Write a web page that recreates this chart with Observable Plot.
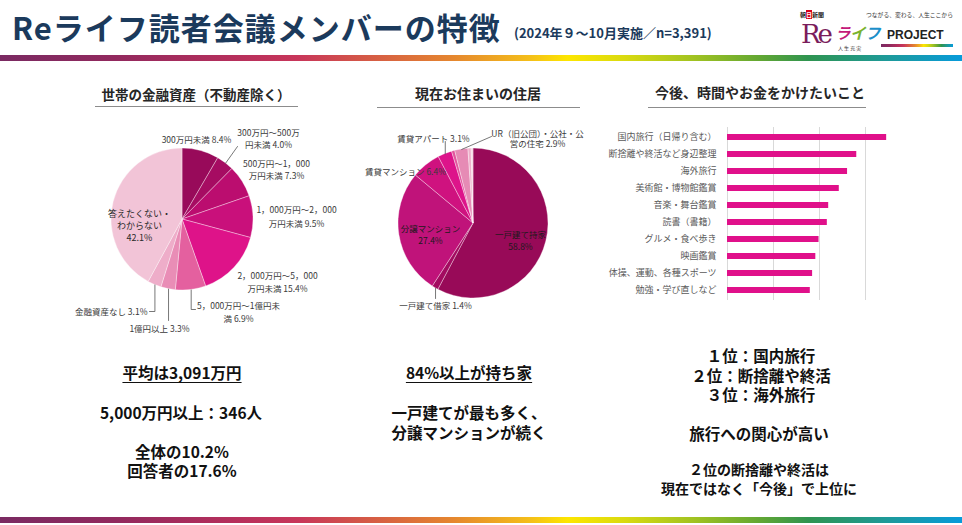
<!DOCTYPE html>
<html>
<head>
<meta charset="utf-8">
<script src="https://cdn.jsdelivr.net/npm/d3@7"></script>
<script src="https://cdn.jsdelivr.net/npm/@observablehq/plot@0.6"></script>
<style>
  html, body { margin: 0; padding: 0; background: #fff; }
  #slide { position: relative; width: 962px; height: 525px; overflow: hidden; background: #fff;
           font-family: "Noto Sans CJK JP", "Noto Sans", sans-serif; }
  .abs { position: absolute; white-space: nowrap; }
  .grad { background: linear-gradient(to right, #7a2a62 0%, #92295e 12%, #b52f5c 24%, #c8365a 31%, #d65e44 39%, #e5862f 47%, #f4be1a 55%, #fde600 59%, #d9da10 65%, #a2c321 72%, #62a733 79%, #2f9450 84%, #1e9a98 92%, #079bdb 100%); }
</style>
</head>
<body>
<div id="slide"></div>
<script>
// ---------------- DATA ----------------
const assetCategories = ["300万円未満", "300万円～500万円未満", "500万円～1，000万円未満", "1，000万円～2，000万円未満",
  "2，000万円～5，000万円未満", "5，000万円～1億円未満", "1億円以上", "金融資産なし", "答えたくない・わからない"];
const assetShares = [8.4, 4.0, 7.3, 9.5, 15.4, 6.9, 3.3, 3.1, 42.1];

const housingCategories = ["一戸建て持家", "一戸建て借家", "分譲マンション", "賃貸マンション", "賃貸アパート",
  "社宅・寮", "UR（旧公団）・公社・公営の住宅", "その他", "無回答"];
const housingShares = [58.8, 1.4, 27.4, 6.4, 3.1, 0.7, 2.9, 0.7, 0.4];

const interestCategories = ["国内旅行（日帰り含む）", "断捨離や終活など身辺整理", "海外旅行", "美術館・博物館鑑賞", "音楽・舞台鑑賞",
  "読書（書籍）", "グルメ・食べ歩き", "映画鑑賞", "体操、運動、各種スポーツ", "勉強・学び直しなど"];
const interestShares = [34.6, 28.1, 26.1, 24.3, 22.0, 21.7, 19.9, 19.2, 18.5, 18.0];
const gridTicks = [0, 10, 20, 30];

// ---------------- STYLES ----------------
const assetColors = ["#980a5a", "#a60c62", "#bb0d6f", "#c9107b", "#de1389", "#e4609f", "#e98db6", "#eeadc9", "#f2c4d7"];
const housingColors = ["#980a58", "#a30b60", "#c0137a", "#cf127f", "#dd148a", "#e2559d", "#e68bb5", "#eeb1cb", "#f6d4e1"];
const barColor = "#e0108a";
const FONT = "'Noto Sans CJK JP', 'Noto Sans', sans-serif";
const pct = v => v.toFixed(1) + "%";

// ---------------- HELPERS ----------------
const slide = document.getElementById("slide");
function addDiv(html, style) {
  const d = document.createElement("div");
  d.className = "abs";
  d.innerHTML = html;
  Object.assign(d.style, style);
  slide.appendChild(d);
  return d;
}
function centerText(text, cx, cy, size, extra = {}) {
  return addDiv(text, {
    left: (cx - 200) + "px", width: "400px", textAlign: "center",
    top: (cy - size * 0.575) + "px", fontSize: size + "px", lineHeight: (size * 1.15) + "px",
    fontWeight: "700", color: "#111", ...extra
  });
}
// several centred lines in one block; cy = centre of the first line, lead = line pitch
function centerBlock(lines, cx, cy, size, lead, extra = {}) {
  return addDiv(lines.join("<br>"), {
    left: (cx - 200) + "px", width: "400px", textAlign: "center",
    top: (cy - lead / 2) + "px", fontSize: size + "px", lineHeight: lead + "px",
    fontWeight: "700", color: "#111", ...extra
  });
}

// ---------------- HEADER ----------------
addDiv("Reライフ読者会議メンバーの特徴", {left: "12px", top: "10px", fontSize: "31px", lineHeight: "33px",
  fontWeight: "700", color: "#1b3a5c", letterSpacing: "1px"});
addDiv("(2024年９～10月実施／n=3,391)", {left: "514px", top: "25px", fontSize: "13px", lineHeight: "15px",
  fontWeight: "700", color: "#1b3a5c"});
// logo
addDiv('朝<span style="background:#d7001a;color:#fff">日</span>新聞', {left: "800px", top: "11px", fontSize: "6px", lineHeight: "7px", fontWeight: "700", color: "#222"});
addDiv("つながる、変わる、人生ここから", {left: "866px", top: "11px", fontSize: "5.8px", lineHeight: "7px", color: "#333"});
addDiv("Re", {left: "801px", top: "21px", fontSize: "26px", lineHeight: "27px", color: "#7a1d5c", fontFamily: "'DejaVu Serif', serif", letterSpacing: "-3px"});
addDiv('<span style="color:#c41a7a">ラ</span><span style="color:#7ab32e">イ</span><span style="color:#1b8fc9">フ</span>', {left: "835px", top: "22px", fontSize: "15.5px", lineHeight: "20px", fontStyle: "italic", fontWeight: "700", letterSpacing: "-0.5px"});
addDiv("PROJECT", {left: "887px", top: "29px", fontSize: "12px", lineHeight: "13px", fontWeight: "700", color: "#222", fontFamily: "'Liberation Sans', sans-serif"});
addDiv("人 生 充 実", {left: "838px", top: "45px", fontSize: "5px", lineHeight: "6px", color: "#333"});
const lb = addDiv("", {left: "881px", top: "44px", width: "72px", height: "3px"}); lb.classList.add("grad");
// gradient bars
const g1 = addDiv("", {left: "0px", top: "55px", width: "962px", height: "6px"}); g1.classList.add("grad");
const g2 = addDiv("", {left: "0px", top: "517px", width: "962px", height: "6px"}); g2.classList.add("grad");

// ---------------- SECTION TITLES ----------------
function sectionTitle(text, cx, cy, size, x1, x2, ly) {
  centerText(text, cx, cy, size, {color: "#262626"});
  addDiv("", {left: x1 + "px", top: ly + "px", width: (x2 - x1) + "px", height: "1px", background: "#8c8c8c"});
}
sectionTitle("世帯の金融資産（不動産除く）", 196, 95, 13.5, 95, 298, 106);
sectionTitle("現在お住まいの住居", 478, 93, 14, 377, 580, 107);
sectionTitle("今後、時間やお金をかけたいこと", 760, 92, 14, 648, 866, 107);

// ---------------- PIE ----------------
function pieChart({cats, vals, colors, left, top, W, H, cx, cy, r, labels, leaders}) {
  const data = cats.map((c, i) => ({cat: c, value: vals[i], color: colors[i]}));
  const arcs = d3.pie().sort(null).value(d => d.value)(data);
  const mid = i => {
    const a = (arcs[i].startAngle + arcs[i].endAngle) / 2;
    return [r * Math.sin(a), -r * Math.cos(a)];
  };
  const slices = (index, scales) => {
    const x0 = scales.x(0), y0 = scales.y(0);
    const rr = scales.x(r) - x0;
    const arc = d3.arc().innerRadius(0).outerRadius(rr);
    const g = d3.create("svg:g").attr("transform", `translate(${x0},${y0})`);
    g.selectAll("path").data(arcs).join("path")
      .attr("d", arc).attr("fill", d => d.data.color)
      .attr("stroke", "#fff").attr("stroke-width", 0.5).attr("stroke-opacity", 0.7);
    return g.node();
  };
  // one multi-line text per label
  const textRows = labels.map(l => {
    const lines = l.lines(vals[l.i]);
    const lead = l.lead ?? 12.5;
    const size = l.size ?? 8.5;
    return {
      text: lines.join("\n"), x: l.x, y: l.y + (lines.length - 1) * lead / 2,
      anchor: l.anchor ?? "middle", size, fill: l.fill ?? "#3a3a3a", lh: +(lead / size).toFixed(4)
    };
  });
  const linePts = [];
  leaders.forEach((ld, j) => {
    let [px, py] = mid(ld.i);
    linePts.push({id: j, x: px, y: py});
    ld.to.forEach(([tx, ty]) => {
      px = tx ?? px; py = ty ?? py;
      linePts.push({id: j, x: px, y: py});
    });
  });
  const textMarks = d3.groups(textRows, d => `${d.anchor}|${d.size}|${d.fill}|${d.lh}`).map(([k, rows]) => {
    const [anchor, size, fill, lh] = k.split("|");
    return Plot.text(rows, {x: "x", y: "y", text: "text", textAnchor: anchor, fontSize: +size,
      fill, lineHeight: +lh, fontFamily: FONT});
  });
  const plot = Plot.plot({
    width: W, height: H, margin: 0,
    x: {domain: [-cx, W - cx], range: [0, W], axis: null},
    y: {domain: [-cy, H - cy], range: [0, H], axis: null},
    style: {fontFamily: FONT, background: "transparent", overflow: "visible"},
    marks: [
      slices,
      Plot.line(linePts, {x: "x", y: "y", z: "id", stroke: "#555", strokeWidth: 0.8}),
      ...textMarks
    ]
  });
  const holder = addDiv("", {left: left + "px", top: top + "px"});
  holder.appendChild(plot);
}

// Pie 1 : household financial assets  (center on page ≈ 182,219)
pieChart({
  cats: assetCategories, vals: assetShares, colors: assetColors,
  left: 40, top: 110, W: 300, H: 230, cx: 142, cy: 109, r: 71,
  labels: [
    {i: 0, lines: d => [`300万円未満 ${pct(d)}`], x: 14, y: -81},
    {i: 1, lines: d => ["300万円～500万", `円未満 ${pct(d)}`], x: 86, y: -87, lead: 11.5},
    {i: 2, lines: d => ["500万円～1，000", `万円未満 ${pct(d)}`], x: 94, y: -57, lead: 12.5},
    {i: 3, lines: d => ["1，000万円～2，000", `万円未満 ${pct(d)}`], x: 114, y: -11, lead: 14},
    {i: 4, lines: d => ["2，000万円～5，000", `万円未満 ${pct(d)}`], x: 95, y: 55, lead: 13},
    {i: 5, lines: d => ["5，000万円～1億円未", `満 ${pct(d)}`], x: 56, y: 85, lead: 13},
    {i: 6, lines: d => [`1億円以上 ${pct(d)}`], x: -23, y: 108},
    {i: 7, lines: d => [`金融資産なし ${pct(d)}`], x: -35, y: 91, anchor: "end"},
    {i: 8, lines: d => ["答えたくない・", "わからない", pct(d)], x: -43, y: -6, lead: 12, size: 9, fill: "#2a2a2a"}
  ],
  leaders: [
    {i: 1, to: [[55, -73]]},
    {i: 5, to: [[null, 90], [13, 90]]},
    {i: 6, to: [[null, 101]]},
    {i: 7, to: [[null, 92], [-33, 92]]}
  ]
});

// Pie 2 : housing  (center on page ≈ 473,223)
pieChart({
  cats: housingCategories, vals: housingShares, colors: housingColors,
  left: 350, top: 110, W: 250, H: 210, cx: 123, cy: 113, r: 75,
  labels: [
    {i: 0, lines: d => ["一戸建て持家", pct(d)], x: 47, y: 11, lead: 11.5, size: 8.5, fill: "#1a1a1a"},
    {i: 1, lines: d => [`一戸建て借家 ${pct(d)}`], x: -38, y: 81},
    {i: 2, lines: d => ["分譲マンション", pct(d)], x: -43, y: 5, lead: 11.5, size: 8.5, fill: "#1a1a1a"},
    {i: 3, lines: d => [`賃貸マンション ${pct(d)}`], x: -68, y: -53},
    {i: 4, lines: d => [`賃貸アパート ${pct(d)}`], x: -40, y: -86},
    {i: 6, lines: d => ["UR（旧公団）・公社・公", `営の住宅 ${pct(d)}`], x: 64, y: -90, lead: 10.5}
  ],
  leaders: [
    {i: 4, to: [[null, -82]]},
    {i: 6, to: [[18, -87]]},
    {i: 1, to: [[null, 75]]}
  ]
});

// ---------------- BAR CHART ----------------
const interestData = interestCategories.map((c, i) => ({cat: c, value: interestShares[i]}));
const bar = Plot.plot({
  width: 320, height: 195, marginLeft: 127, marginRight: 9, marginTop: 12, marginBottom: 10,
  x: {domain: [0, 40], axis: null},
  y: {domain: interestCategories, paddingInner: 0.65, paddingOuter: 0.325, label: null, axis: null},
  style: {fontFamily: FONT, fontSize: "9px", color: "#595959", background: "transparent", overflow: "visible"},
  marks: [
    Plot.ruleX(gridTicks, {stroke: "#d9d9d9", strokeWidth: 1}),
    Plot.barX(interestData, {x: "value", y: "cat", fill: barColor}),
    Plot.axisY({tickSize: 0, tickPadding: 11, label: null, fontSize: 9})
  ]
});
addDiv("", {left: "600px", top: "115px"}).appendChild(bar);

// ---------------- BOTTOM TEXTS ----------------
centerText('<span style="text-decoration:underline;text-underline-offset:3px">平均は3,091万円</span>', 182, 373, 15.5);
centerText("5,000万円以上：346人", 181, 413, 15.5);
centerBlock(["全体の10.2%", "回答者の17.6%"], 182, 451, 15.5, 19);

centerText('<span style="text-decoration:underline;text-underline-offset:3px">84%以上が持ち家</span>', 469, 373, 15.5);
centerBlock(["一戸建てが最も多く、", "分譲マンションが続く"], 469, 412, 15.5, 20);

centerBlock(["１位：国内旅行", "２位：断捨離や終活", "３位：海外旅行"], 761, 356, 15.5, 19.5);
centerText("旅行への関心が高い", 759, 434, 15.5);
centerBlock(["２位の断捨離や終活は", "現在ではなく「今後」で上位に"], 759, 469, 14, 19);
</script>
</body>
</html>
